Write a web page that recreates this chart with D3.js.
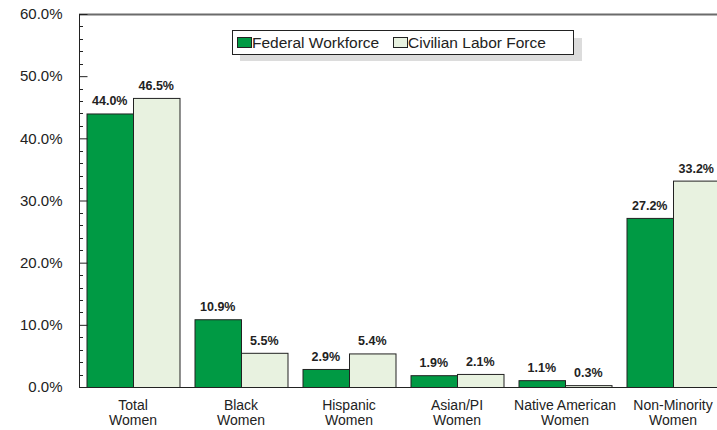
<!DOCTYPE html>
<html><head><meta charset="utf-8">
<script src="https://cdn.jsdelivr.net/npm/d3@7"></script>
<style>body{margin:0;background:#fff}svg{display:block;font-family:"Liberation Sans",Arial,sans-serif}</style>
</head><body><svg id="c" width="717" height="430"></svg>
<script>
const categories = [["Total","Women"],["Black","Women"],["Hispanic","Women"],["Asian/PI","Women"],["Native American","Women"],["Non-Minority","Women"]];
const seriesNames = ["Federal Workforce","Civilian Labor Force"];
const federal = [44.0,10.9,2.9,1.9,1.1,27.2];
const civilian = [46.5,5.5,5.4,2.1,0.3,33.2];
const yTicks = [0,10,20,30,40,50,60];
const colors = ["#009a44","#e8f2e0"];

(function(){
const svg = d3.select("#c");
const pL = 79, pT = 14, pB = 387, pR = 727;
const x0 = d3.scaleBand().domain(d3.range(categories.length)).range([pL,pR]).paddingInner(15/108).paddingOuter(7.5/108);
const x1 = d3.scaleBand().domain([0,1]).range([0,x0.bandwidth()]);
const y = d3.scaleLinear().domain([0,60]).range([pB,pT]);

svg.append("line").attr("x1",pL).attr("x2",717).attr("y1",pT+0.5).attr("y2",pT+0.5).attr("stroke","#6b6b6b").attr("stroke-width",2);

const data = [federal,civilian];
categories.forEach((c,i)=>{
  data.forEach((s,j)=>{
    const bx = x0(i)+x1(j);
    svg.append("rect").attr("x",bx+0.5).attr("y",y(s[i])+0.5).attr("width",x1.bandwidth()).attr("height",pB-y(s[i]))
      .attr("fill",colors[j]).attr("stroke","#222").attr("stroke-width",1);
    svg.append("text").attr("x",bx+x1.bandwidth()/2).attr("y",y(s[i])-8).attr("text-anchor","middle")
      .attr("font-size",12.5).attr("font-weight","bold").attr("fill","#222").text(s[i].toFixed(1)+"%");
  });
  const t = svg.append("text").attr("text-anchor","middle").attr("font-size",14).attr("fill","#222");
  c.forEach((ln,k)=>t.append("tspan").attr("x",x0(i)+x0.bandwidth()/2).attr("y",410+k*15).text(ln));
});

const yAxis = d3.axisLeft(y).tickValues(yTicks).tickSize(-8).tickPadding(17).tickFormat(d=>d.toFixed(1)+"%");
const ga = svg.append("g").attr("transform",`translate(${pL+0.5},0)`).call(yAxis);
ga.select(".domain").remove();
ga.selectAll("text").attr("font-size",15).attr("fill","#222").attr("font-family","Liberation Sans, Arial, sans-serif");
ga.selectAll("line").attr("stroke","#222");
const minor = d3.range(0,60,2).filter(v=>v%10!==0);
svg.selectAll(".mn").data(minor).enter().append("line").attr("x1",pL).attr("x2",pL+4)
  .attr("y1",d=>Math.round(y(d))+0.5).attr("y2",d=>Math.round(y(d))+0.5).attr("stroke","#222");
svg.append("line").attr("x1",pL+0.5).attr("x2",pL+0.5).attr("y1",pT).attr("y2",pB+1).attr("stroke","#222");
svg.append("line").attr("x1",pL).attr("x2",717).attr("y1",pB+0.5).attr("y2",pB+0.5).attr("stroke","#222");

svg.append("rect").attr("x",240).attr("y",38).attr("width",342).attr("height",23).attr("fill","#dcdcdc");
svg.append("rect").attr("x",232.5).attr("y",30.5).attr("width",341).attr("height",24).attr("fill","#fff").attr("stroke","#222");
const lx = [237, 393];
seriesNames.forEach((n,j)=>{
  svg.append("rect").attr("x",lx[j]+0.5).attr("y",37.5).attr("width",14).attr("height",10).attr("fill",colors[j]).attr("stroke","#222");
  svg.append("text").attr("x",lx[j]+15).attr("y",48).attr("font-size",15.5).attr("fill","#222").text(n);
});
})();
</script></body></html>
